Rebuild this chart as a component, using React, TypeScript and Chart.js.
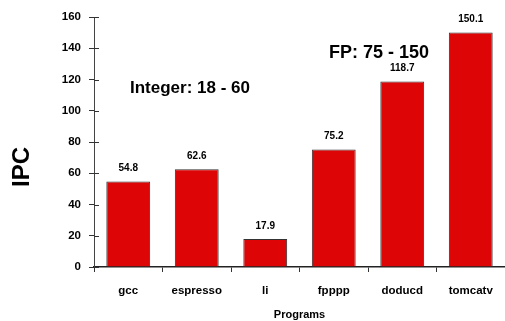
import React, { useEffect, useRef } from "react";
import { Chart, registerables } from "chart.js";

Chart.register(...registerables);

const categories = ["gcc", "espresso", "li", "fpppp", "doducd", "tomcatv"];
const ipcValues = [54.8, 62.6, 17.9, 75.2, 118.7, 150.1];
const valueLabels = ["54.8", "62.6", "17.9", "75.2", "118.7", "150.1"];
const yMin = 0;
const yMax = 160;
const yStep = 20;
const yTitle = "IPC";
const xTitle = "Programs";
const noteInteger = "Integer: 18 - 60";
const noteFP = "FP: 75 - 150";

const FONT = "'Liberation Sans', Arial, sans-serif";

const textPlugin = {
  id: "customText",
  afterDraw(chart: any) {
    const ctx = chart.ctx;
    const area = chart.chartArea;
    const yScale = chart.scales.y;
    ctx.save();
    // inner part of y ticks
    ctx.strokeStyle = "#333";
    ctx.lineWidth = 1;
    yScale.ticks.forEach((t: any) => {
      const py = Math.round(yScale.getPixelForValue(t.value)) + 0.5;
      ctx.beginPath();
      ctx.moveTo(area.left, py);
      ctx.lineTo(area.left + 5, py);
      ctx.stroke();
    });
    // value labels
    ctx.fillStyle = "#000";
    ctx.font = `bold 10px ${FONT}`;
    ctx.textAlign = "center";
    ctx.textBaseline = "middle";
    const meta = chart.getDatasetMeta(0);
    meta.data.forEach((bar: any, i: number) => {
      ctx.fillText(valueLabels[i], bar.x, bar.y - 13);
    });
    // annotations
    ctx.textAlign = "left";
    ctx.font = `bold 17px ${FONT}`;
    ctx.fillText(noteInteger, 130, 88);
    ctx.font = `bold 18px ${FONT}`;
    ctx.fillText(noteFP, 329, 53);
    // x title
    ctx.textAlign = "center";
    ctx.font = `bold 11px ${FONT}`;
    ctx.fillText(xTitle, (area.left + area.right) / 2, 315);
    // y title
    ctx.translate(22, 167);
    ctx.rotate(-Math.PI / 2);
    ctx.font = `bold 24px ${FONT}`;
    ctx.fillText(yTitle, 0, 0);
    ctx.restore();
  },
};

export default function App() {
  const ref = useRef<HTMLCanvasElement>(null);
  useEffect(() => {
    const chart = new Chart(ref.current!, {
      type: "bar",
      data: {
        labels: categories,
        datasets: [
          {
            data: ipcValues,
            backgroundColor: "#dd0505",
            borderColor: "#333333",
            borderWidth: 1,
            categoryPercentage: 1,
            barPercentage: 0.64,
          },
        ],
      },
      options: {
        animation: false,
        responsive: true,
        maintainAspectRatio: false,
        layout: { padding: { top: 17, right: 0, left: 0, bottom: 0 } },
        plugins: { legend: { display: false }, tooltip: { enabled: false } },
        scales: {
          x: {
            offset: true,
            grid: {
              offset: true,
              drawOnChartArea: false,
              tickLength: 5,
              color: "#333",
            },
            border: { color: "#222", width: 1.5 },
            ticks: {
              color: "#000",
              font: { family: FONT, weight: "bold", size: 11.5 },
              padding: 12,
              maxRotation: 0,
            },
            afterFit(scale: any) {
              scale.height = 54;
            },
          },
          y: {
            min: yMin,
            max: yMax,
            ticks: {
              stepSize: yStep,
              color: "#000",
              font: { family: FONT, weight: "bold", size: 11.5 },
              padding: 8,
            },
            grid: {
              drawOnChartArea: false,
              tickLength: 5,
              color: "#333",
            },
            border: { color: "#444", width: 1 },
            afterFit(scale: any) {
              scale.width = 94;
            },
          },
        },
      },
      plugins: [textPlugin],
    } as any);
    return () => chart.destroy();
  }, []);
  return (
    <div style={{ position: "fixed", left: 0, top: 0, width: 505, height: 321, background: "#fff" }}>
      <canvas ref={ref} />
    </div>
  );
}
